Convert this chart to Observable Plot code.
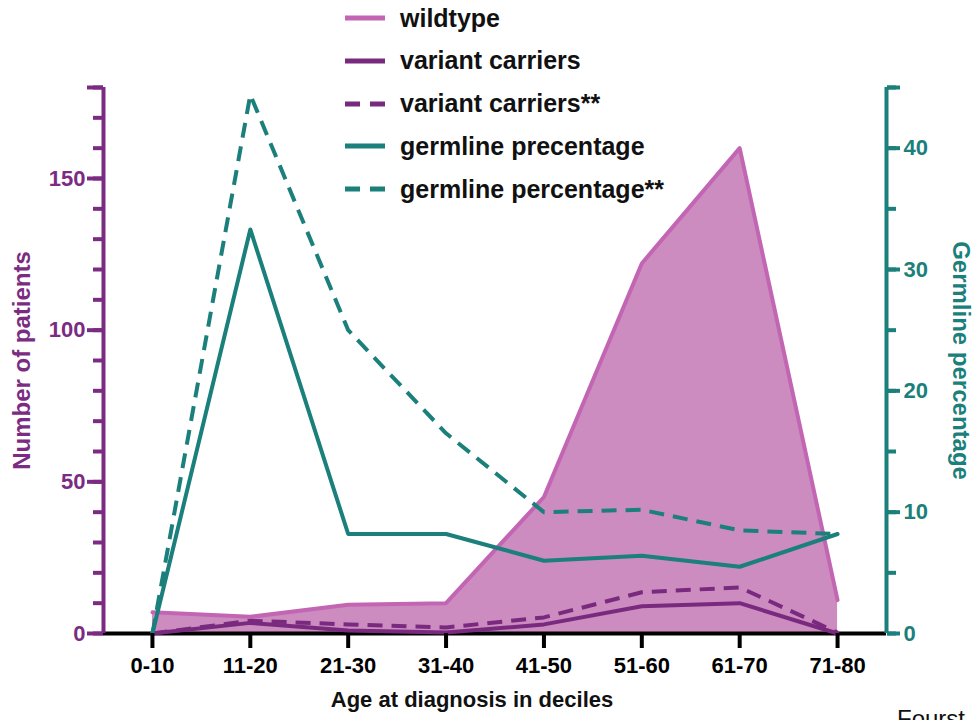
<!DOCTYPE html>
<html><head><meta charset="utf-8">
<script src="https://cdn.jsdelivr.net/npm/d3@7"></script>
<script src="https://cdn.jsdelivr.net/npm/@observablehq/plot@0.6"></script>
<style>
body{margin:0;width:973px;height:720px;overflow:hidden;background:#fff;font-family:"Liberation Sans",Arial,sans-serif;position:relative}
#chart{position:absolute;left:0;top:0}
#legend{position:absolute;left:345px;top:0;width:420px;height:210px}
.row{position:absolute;left:0;height:30px;display:flex;align-items:center;white-space:nowrap;font-weight:bold;font-size:25px;color:#111}
.row svg{margin-right:15px;flex:none}
#source{position:absolute;left:897px;top:705px;font-size:24px;white-space:nowrap;color:#111}
</style></head><body>
<div id="chart"></div><div id="legend"></div><div id="source">Fourst</div>
<script>
// ---- data ----
const ages = ["0-10", "11-20", "21-30", "31-40", "41-50", "51-60", "61-70", "71-80"];
const wildtype = [7, 5.5, 9.5, 10, 45, 122, 160, 11];
const variantCarriers = [0, 3.5, 1, 0.3, 3, 9, 10, 0];
const variantCarriersAdj = [0, 4.2, 3, 2, 5.3, 13.6, 15.2, 0.3];
const germline = [0, 33.3, 8.2, 8.2, 6.0, 6.4, 5.5, 8.2];
const germlineAdj = [0, 44.4, 25, 16.5, 10.0, 10.2, 8.5, 8.2];
const leftMajorTicks = [0, 50, 100, 150];
const leftMax = 180;
const rightMajorTicks = [0, 10, 20, 30, 40];
const rightMax = 45;
const legendLabels = ["wildtype", "variant carriers", "variant carriers**", "germline precentage", "germline percentage**"];

// ---- styles ----
const purple = "#7b2c82", teal = "#1b7f7b", wtLine = "#c266b4", wtFill = "#cd8cc0", vc = "#792a7f";
const k = leftMax / rightMax; // right-axis values mapped onto left scale
const idx = d3.range(ages.length);
const bold = {fontWeight: "bold"};

const plot = Plot.plot({
  width: 973, height: 720,
  marginLeft: 103, marginRight: 87, marginTop: 87, marginBottom: 87,
  style: {fontFamily: '"Liberation Sans", Arial, sans-serif', background: "white", overflow: "visible"},
  x: {type: "linear", domain: [-0.5, ages.length - 0.5], label: null},
  y: {domain: [0, leftMax], label: null},
  marks: [
    Plot.areaY(idx, {x: i => i, y: i => wildtype[i], fill: wtFill}),
    Plot.ruleY([0], {stroke: "black", strokeWidth: 4}),
    Plot.lineY(idx, {x: i => i, y: i => wildtype[i], stroke: wtLine, strokeWidth: 4}),
    Plot.lineY(idx, {x: i => i, y: i => variantCarriers[i], stroke: vc, strokeWidth: 4}),
    Plot.lineY(idx, {x: i => i, y: i => variantCarriersAdj[i], stroke: vc, strokeWidth: 4, strokeDasharray: "15,9", strokeLinecap: "butt"}),
    Plot.lineY(idx, {x: i => i, y: i => germline[i] * k, stroke: teal, strokeWidth: 4}),
    Plot.lineY(idx, {x: i => i, y: i => germlineAdj[i] * k, stroke: teal, strokeWidth: 4, strokeDasharray: "15,9", strokeLinecap: "butt"}),
    // axis lines
    Plot.ruleX([-0.5], {y1: 0, y2: leftMax, stroke: purple, strokeWidth: 4}),
    Plot.ruleX([ages.length - 0.5], {y1: 0, y2: leftMax, stroke: teal, strokeWidth: 4}),
    // x axis
    Plot.axisX({ticks: idx, tickFormat: i => ages[i], tickSize: 15, tickPadding: 9, strokeWidth: 4,
      fontSize: 22, ...bold, color: "black", label: null}),
    // left axis
    Plot.axisY({ticks: d3.range(0, leftMax + 1, 10), tickSize: 10, tickFormat: () => "", color: purple, strokeWidth: 4, label: null}),
    Plot.axisY({ticks: [...leftMajorTicks, leftMax], tickSize: 16, tickPadding: 2,
      tickFormat: d => d === leftMax ? "" : d, color: purple, strokeWidth: 4, fontSize: 22, ...bold, label: null}),
    // right axis
    Plot.axisY({anchor: "right", ticks: d3.range(0, rightMax + 1, 5).map(v => v * k), tickSize: 9,
      tickFormat: () => "", color: teal, strokeWidth: 4, label: null}),
    Plot.axisY({anchor: "right", ticks: [...rightMajorTicks, rightMax].map(v => v * k), tickSize: 13, tickPadding: 4,
      tickFormat: d => d === leftMax ? "" : d / k, color: teal, strokeWidth: 4, fontSize: 22, ...bold, label: null}),
    // titles
    Plot.text(["Number of patients"], {frameAnchor: "left", dx: -81, rotate: -90, textAnchor: "middle", lineAnchor: "middle",
      fill: purple, fontSize: 24, ...bold}),
    Plot.text(["Germline percentage"], {frameAnchor: "right", dx: 74, rotate: 90, textAnchor: "middle", lineAnchor: "middle",
      fill: teal, fontSize: 24, ...bold}),
    Plot.text(["Age at diagnosis in deciles"], {frameAnchor: "bottom", dx: -23, dy: 66, textAnchor: "middle", lineAnchor: "middle",
      fill: "#111", fontSize: 22, ...bold})
  ]
});
document.getElementById("chart").appendChild(plot);

// ---- legend ----
const legendStyles = [
  {stroke: wtLine, dash: null},
  {stroke: vc, dash: null},
  {stroke: vc, dash: "15,10"},
  {stroke: teal, dash: null},
  {stroke: teal, dash: "15,10"}
];
const legend = document.getElementById("legend");
legendLabels.forEach((lab, i) => {
  const row = document.createElement("div");
  row.className = "row";
  row.style.top = (3 + i * 42.8) + "px";
  const s = legendStyles[i];
  row.innerHTML = `<svg width="40" height="10"><line x1="0" x2="40" y1="5" y2="5" stroke="${s.stroke}" stroke-width="5" ${s.dash ? `stroke-dasharray="${s.dash}"` : ""}/></svg><span>${lab}</span>`;
  legend.appendChild(row);
});
</script>
</body></html>
